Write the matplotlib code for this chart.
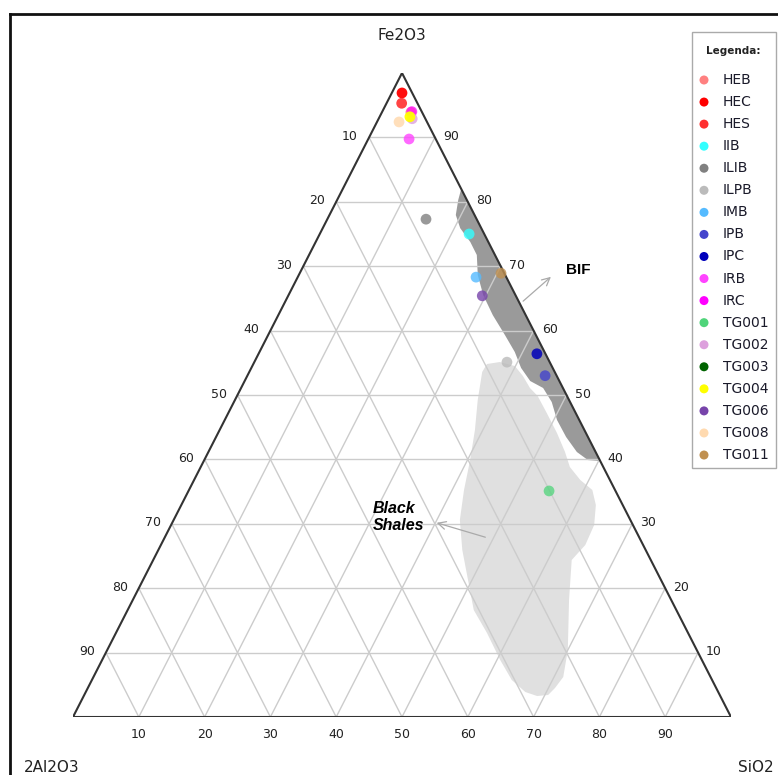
import matplotlib
matplotlib.use('Agg')
import matplotlib.pyplot as plt
import numpy as np
from matplotlib.patches import Polygon, Rectangle

W, H = 778, 775

# ---------------- data ----------------
sample_names = ['HEB', 'HEC', 'HES', 'IIB', 'ILIB', 'ILPB', 'IMB', 'IPB', 'IPC',
                'IRB', 'IRC', 'TG001', 'TG002', 'TG003', 'TG004', 'TG006', 'TG008', 'TG011']
sample_colors = ['#FF8080', '#FF0000', '#FF3030', '#33FFFF', '#808080', '#BBBBBB',
                 '#55BBFF', '#4444CC', '#0000BB', '#FF44FF', '#FF00FF', '#4FD47A',
                 '#DDA0DD', '#006400', '#FFFF00', '#7744AA', '#FFDAB0', '#C09050']
# Fe2O3 and SiO2 percentages of each sample (2Al2O3 = 100 - Fe2O3 - SiO2)
sample_fe = [[93.9], [96.9], [95.3], [75.0], [77.3], [55.1], [68.3], [53.0], [56.4],
             [89.75], [94.0], [35.1], [92.9], [], [93.2], [65.4], [92.4], [68.9]]
sample_si = [[4.4], [1.55], [2.3], [22.7], [15.0], [38.4], [27.1], [45.25], [42.3],
             [6.2], [4.5], [54.8], [5.1], [], [4.6], [29.5], [3.35], [30.6]]
sample_alpha = [0.8, 0.95, 0.9, 0.8, 0.8, 0.8, 0.8, 0.8, 0.85,
                0.8, 0.7, 0.75, 0.8, 0.8, 0.95, 0.8, 0.85, 0.8]

# field outlines (Fe2O3 %, SiO2 %)
bif_fe = [82.0, 80.3, 77.95, 75.9, 73.76, 71.74, 68.63, 65.5, 62.4, 59.3, 56.68, 54.2,
          52.17, 51.09, 48.91, 46.12, 43.48, 41.15, 39.9, 39.75]
bif_si = [18.0, 18.4, 19.2, 20.9, 23.5, 25.5, 27.2, 29.6, 32.6, 36.0, 38.8, 41.0,
          43.4, 45.9, 48.3, 50.5, 53.2, 56.0, 58.3, 60.25]
shale_fe = [53.57, 54.81, 55.12, 54.50, 52.95, 51.09, 49.84, 47.20, 44.10, 41.15, 38.82,
            36.80, 35.25, 32.92, 29.81, 26.71, 24.38, 18.17, 10.40, 6.21, 4.50, 3.42,
            3.26, 3.88, 5.75, 8.85, 13.04, 16.61, 21.27, 25.93, 30.59, 35.25, 39.91,
            44.57, 49.22, 51.55]
shale_si = [35.4, 35.5, 37.3, 39.9, 41.9, 43.9, 45.7, 48.4, 51.5, 54.2, 56.1,
            58.7, 61.3, 63.0, 64.3, 64.5, 63.6, 66.3, 70.0, 71.4, 71.0, 70.5,
            68.9, 66.8, 63.8, 60.5, 56.4, 52.6, 49.4, 46.2, 43.5, 41.8, 40.4,
            38.8, 36.9, 36.1]

grid_levels = [10, 20, 30, 40, 50, 60, 70, 80, 90]
apex_labels = ['Fe2O3', '2Al2O3', 'SiO2']


def tern(fe, si):
    fe = np.asarray(fe, dtype=float) / 100.0
    si = np.asarray(si, dtype=float) / 100.0
    return si + fe / 2.0, fe


# ---------------- figure ----------------
fig = plt.figure(figsize=(W / 100, H / 100), dpi=100)
fig.patch.set_facecolor('white')

# triangle axes: x in [0,1] maps to px 73..731, y in [0,1] maps to px 717..73
ax = fig.add_axes([73 / W, (H - 717) / H, 658 / W, 644 / H])
ax.set_xlim(0, 1)
ax.set_ylim(0, 1)
ax.axis('off')

grid_kw = dict(color='#CCCCCC', lw=1.0, zorder=3)
for k in grid_levels:
    x, y = tern([k, k], [0, 100 - k])
    ax.plot(x, y, **grid_kw)
    x, y = tern([0, 100 - k], [k, k])
    ax.plot(x, y, **grid_kw)
    x, y = tern([0, 100 - k], [100 - k, 0])
    ax.plot(x, y, **grid_kw)

# fields
x, y = tern(shale_fe, shale_si)
ax.add_patch(Polygon(np.column_stack([x, y]), closed=True, facecolor='#E0E0E0',
                     edgecolor='none', zorder=2))
bx, by = tern(bif_fe + [82.0], bif_si + [18.0])
ax.add_patch(Polygon(np.column_stack([bx, by]), closed=True, facecolor='#9A9A9A',
                     edgecolor='none', zorder=2))

# triangle outline
x, y = tern([0, 0, 100, 0], [0, 100, 0, 0])
ax.plot(x, y, color='#333333', lw=1.5, zorder=4, solid_joinstyle='miter')

# tick labels
tick_kw = dict(fontsize=9, color='#222222', textcoords='offset pixels',
               ha='center', va='center', annotation_clip=False)
for k in grid_levels:
    x, y = tern(k, 0)
    ax.annotate(str(100 - k), (x, y), xytext=(-19, 1), **tick_kw)
    x, y = tern(k, 100 - k)
    ax.annotate(str(k), (x, y), xytext=(16, 1), **tick_kw)
    x, y = tern(0, k)
    ax.annotate(str(k), (x, y), xytext=(0, -17), **tick_kw)

# samples
for name, col, fe, si, a in zip(sample_names, sample_colors, sample_fe, sample_si,
                                sample_alpha):
    if len(fe) == 0:
        continue
    x, y = tern(fe, si)
    ax.scatter(x, y, s=60, color=col, edgecolors='none', alpha=a, zorder=6,
               clip_on=False)

# ---------------- overlay (pixel space) ----------------
ov = fig.add_axes([0, 0, 1, 1], facecolor='none')
ov.set_xlim(0, W)
ov.set_ylim(H, 0)
ov.axis('off')

# outer frame
ov.plot([10, W + 5], [14, 14], color='#111111', lw=2)
ov.plot([10, 10], [14, H + 5], color='#111111', lw=2)

# apex labels
ov.text(402, 35, apex_labels[0], fontsize=11, ha='center', va='center', color='#222222')
ov.text(24, 768, apex_labels[1], fontsize=11, ha='left', va='center', color='#222222')
ov.text(738, 768, apex_labels[2], fontsize=11, ha='left', va='center', color='#222222')

# annotations
ov.annotate('', xy=(553, 275), xytext=(521, 303),
            arrowprops=dict(arrowstyle='->', color='#AAAAAA', lw=0.9,
                            mutation_scale=14))
ov.text(566, 270, 'BIF', fontsize=11, fontweight='bold', ha='left', va='center',
        family='Liberation Sans')
ov.annotate('', xy=(434, 522), xytext=(488, 538),
            arrowprops=dict(arrowstyle='->', color='#AAAAAA', lw=0.9,
                            mutation_scale=14))
ov.text(373, 517, 'Black\nShales', fontsize=11.5, fontweight='bold', style='italic',
        ha='left', va='center', linespacing=1.15, family='Liberation Sans')

# legend
ov.add_patch(Rectangle((692, 32), 84, 436, facecolor='white', edgecolor='#AAAAAA', lw=1))
ov.text(733, 51, 'Legenda:', fontsize=7.5, fontweight='bold', ha='center', va='center',
        color='#222222')
for i, (name, col) in enumerate(zip(sample_names, sample_colors)):
    yy = 80 + 22.06 * i
    ov.scatter([704], [yy], s=42, color=col, edgecolors='none')
    ov.text(723, yy, name, fontsize=10, ha='left', va='center', color='#1A1A2A')

fig.savefig('out.png', dpi=100)
